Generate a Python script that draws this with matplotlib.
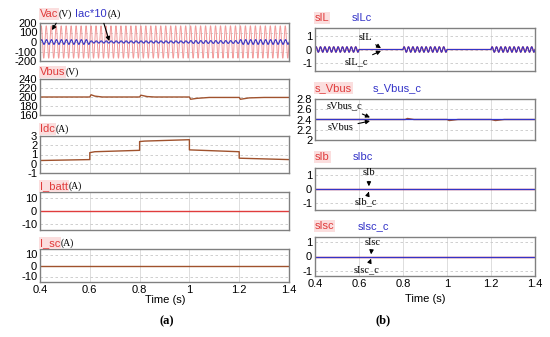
import numpy as np
import matplotlib.pyplot as plt
from matplotlib.text import Annotation

# ---- data ----
t_edges = [0.4, 0.6, 0.8, 1.0, 1.2, 1.4]
f_grid = 50.0
vac_amp = 170.0
iac10_amp = [25, 12, 12, 15, 25]          # Iac*10 amplitude per interval
sil_amp = [0.2, 0.0, 0.2, 0.0, 0.2]       # sIL ripple per interval

vbus_t = [0.4, 0.6, 0.605, 0.62, 0.65, 0.8, 0.805, 0.83, 0.86, 1.0, 1.005, 1.03, 1.08,
          1.2, 1.205, 1.24, 1.3, 1.4]
vbus_v = [200, 200, 205, 202, 200, 200, 204, 201, 200, 200, 195, 197, 199,
          199, 195, 198, 199, 199]

idc_t = [0.4, 0.6, 0.6, 0.62, 0.8, 0.8, 0.82, 1.0, 1.0, 1.2, 1.2, 1.4]
idc_v = [0.35, 0.45, 1.2, 1.3, 1.45, 2.4, 2.45, 2.6, 1.5, 1.3, 0.6, 0.45]

svbus_t = [0.4, 0.6, 0.81, 0.82, 0.85, 1.0, 1.01, 1.05, 1.2, 1.22, 1.26, 1.4]
svbus_v = [2.4, 2.4, 2.4, 2.42, 2.4, 2.4, 2.38, 2.4, 2.4, 2.38, 2.4, 2.4]
svbus_c = 2.4

ibatt = 0.0
isc = 0.0
x_ticks = [0.4, 0.6, 0.8, 1, 1.2, 1.4]
x_labels = ['0.4', '0.6', '0.8', '1', '1.2', '1.4']

RED = '#e03c3c'
PINK = '#f29a9a'
BLUE = '#3434c8'
BROWN = '#a0522d'
BG = '#fbdede'
W, H = 550, 337
SANS = ['Liberation Sans', 'DejaVu Sans']
SERIF = ['Liberation Serif', 'DejaVu Serif']

t = np.linspace(0.4, 1.4, 6001)
seg = np.clip(np.searchsorted(t_edges, t, side='right') - 1, 0, 4)
vac = vac_amp * np.sin(2 * np.pi * f_grid * t)
iac10 = np.array(iac10_amp)[seg] * np.sin(2 * np.pi * f_grid * t - 0.3)
sil = np.array(sil_amp)[seg] * np.sin(2 * np.pi * f_grid * t)

plt.rcParams['font.family'] = SANS
plt.rcParams['axes.unicode_minus'] = False
fig = plt.figure(figsize=(5.5, 3.37), dpi=100)


def box(x0, x1, y0, y1):
    return fig.add_axes([x0 / W, 1 - y1 / H, (x1 - x0) / W, (y1 - y0) / H])


def style(ax, ylim, yticks, fmt=None, show_x=False):
    ax.set_xlim(0.4, 1.4)
    ax.set_ylim(*ylim)
    ax.set_xticks(x_ticks)
    ax.set_yticks(yticks)
    if fmt:
        ax.set_yticklabels(fmt)
    ax.set_xticklabels(x_labels if show_x else [])
    ax.tick_params(length=0, labelsize=8, pad=2)
    ax.grid(axis='y', color='#c8c8c8', ls=(0, (3, 3)), lw=0.6)
    ax.grid(axis='x', color='#d8d8d8', ls='-', lw=0.6)
    for s in ax.spines.values():
        s.set_color('#808080')
        s.set_linewidth(1.0)


def title(x, y, name, unit=None, color=RED):
    # coloured signal name, then a small serif unit right after it
    bbox = dict(facecolor=BG, edgecolor='none', pad=0.6) if color == RED else None
    first = fig.text(x / W, 1 - y / H, name, color=color, fontsize=8, family=SANS,
                     ha='left', va='center', bbox=bbox)
    if unit:
        fig.add_artist(Annotation(unit, xy=(1, 0.5), xycoords=first, xytext=(0.5, 0),
                                  textcoords='offset points', fontsize=7, family=SERIF,
                                  ha='left', va='center'))


def arrow(ax, txt, xy, xytext):
    ax.annotate(txt, xy=xy, xytext=xytext, fontsize=7.5, family=SERIF,
                ha='center', va='center', annotation_clip=False,
                arrowprops=dict(arrowstyle='-|>', color='black', lw=0.8,
                                mutation_scale=6, shrinkA=1, shrinkB=0))


# ---------------- (a) ----------------
a1 = box(40, 289, 23, 61)
a1.plot(t, vac, color=PINK, lw=0.7)
a1.plot(t, iac10, color=BLUE, lw=0.8)
style(a1, (-200, 200), [-200, -100, 0, 100, 200])
arrow(a1, '', (0.448, 125), (0.468, 210))
arrow(a1, '', (0.678, 10), (0.655, 210))

a2 = box(40, 289, 79, 115)
a2.plot(vbus_t, vbus_v, color=BROWN, lw=1.0)
style(a2, (160, 240), [160, 180, 200, 220, 240])

a3 = box(40, 289, 136, 173)
a3.plot(idc_t, idc_v, color=BROWN, lw=1.0)
style(a3, (-1, 3), [-1, 0, 1, 2, 3])

a4 = box(40, 289, 192, 230)
a4.plot([0.4, 1.4], [ibatt, ibatt], color=RED, lw=1.0)
style(a4, (-15, 15), [-10, 0, 10])

a5 = box(40, 289, 249, 282)
a5.plot([0.4, 1.4], [isc, isc], color=BROWN, lw=1.0)
style(a5, (-15, 15), [-10, 0, 10], show_x=True)

title(40, 14, 'Vac', '(V)')
title(75, 14, 'Iac*10', '(A)', color=BLUE)
title(40, 72, 'Vbus', '(V)')
title(40, 129, 'Idc', '(A)')
title(40, 186, 'I_batt', '(A)')
title(40, 243, 'I_sc', '(A)')
fig.text(165 / W, 1 - 300 / H, 'Time (s)', fontsize=8, ha='center', va='center')
fig.text(167 / W, 1 - 321 / H, '(a)', fontsize=9, fontweight='bold', ha='center',
         va='center', family=SERIF)

# ---------------- (b) ----------------
b1 = box(315, 535, 28, 71)
b1.plot(t, sil, color=RED, lw=0.9)
b1.plot(t, sil, color=BLUE, lw=0.8)
style(b1, (-1.6, 1.6), [-1, 0, 1])
arrow(b1, 'sIL', (0.7, 0.1), (0.627, 0.86))
arrow(b1, 'sIL_c', (0.7, -0.1), (0.59, -0.93))

b2 = box(315, 535, 99, 140)
b2.plot(svbus_t, svbus_v, color=BROWN, lw=1.0)
b2.plot([0.4, 1.4], [svbus_c, svbus_c], color=BLUE, lw=0.9)
style(b2, (2.0, 2.8), [2.0, 2.2, 2.4, 2.6, 2.8], ['2', '2.2', '2.4', '2.6', '2.8'])
arrow(b2, 'sVbus_c', (0.65, 2.44), (0.536, 2.66))
arrow(b2, 'sVbus', (0.65, 2.37), (0.518, 2.25))

b3 = box(315, 535, 168, 210)
b3.plot([0.4, 1.4], [0, 0], color=RED, lw=1.0)
b3.plot([0.4, 1.4], [0, 0], color=BLUE, lw=0.9)
style(b3, (-1.55, 1.55), [-1, 0, 1])
arrow(b3, 'sIb', (0.645, 0.2), (0.645, 1.2))
arrow(b3, 'sIb_c', (0.645, -0.2), (0.63, -0.95))

b4 = box(315, 535, 237, 276)
b4.plot([0.4, 1.4], [0, 0], color=RED, lw=1.0)
b4.plot([0.4, 1.4], [0, 0], color=BLUE, lw=0.9)
style(b4, (-1.35, 1.35), [-1, 0, 1], show_x=True)
arrow(b4, 'sIsc', (0.655, 0.15), (0.66, 1.0))
arrow(b4, 'sIsc_c', (0.655, -0.15), (0.635, -0.95))

title(315, 18, 'sIL')
title(352, 18, 'sILc', color=BLUE)
title(315, 88, 's_Vbus')
title(373, 88, 's_Vbus_c', color=BLUE)
title(315, 157, 'sIb')
title(353, 157, 'sIbc', color=BLUE)
title(315, 226, 'sIsc')
title(358, 226, 'sIsc_c', color=BLUE)
fig.text(425 / W, 1 - 299 / H, 'Time (s)', fontsize=8, ha='center', va='center')
fig.text(383 / W, 1 - 320 / H, '(b)', fontsize=9, fontweight='bold', ha='center',
         va='center', family=SERIF)

fig.savefig('out.png', dpi=100)
